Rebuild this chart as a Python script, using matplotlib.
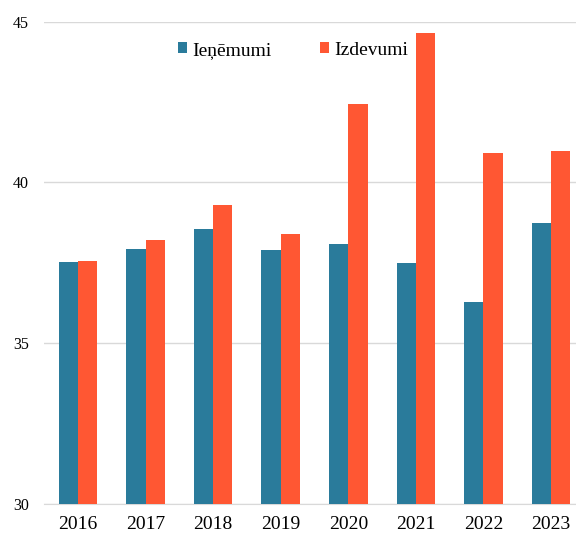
import matplotlib
matplotlib.use('Agg')

import numpy as np
import matplotlib.pyplot as plt

years = ['2016', '2017', '2018', '2019', '2020', '2021', '2022', '2023']
ienemumi = [37.52, 37.92, 38.55, 37.90, 38.07, 37.49, 36.29, 38.75]
izdevumi = [37.55, 38.21, 39.31, 38.38, 42.43, 44.66, 40.92, 40.97]

plt.rcParams['font.family'] = ['Liberation Serif', 'DejaVu Serif']

fig = plt.figure(figsize=(5.76, 5.34), dpi=100)
ax = fig.add_axes([0.0764, 0.0567, 0.9236, 0.9027])

x = np.arange(len(years))
w = 0.286
ax.bar(x - w/2, ienemumi, w, color='#2A7B9B', label='Ieņēmumi', zorder=3)
ax.bar(x + w/2, izdevumi, w, color='#FF5733', label='Izdevumi', zorder=3)

ax.set_ylim(30, 45)
ax.set_xlim(-0.503, 7.37)
ax.set_yticks([30, 35, 40, 45])
ax.set_xticks(x)
ax.set_xticklabels(years)
ax.tick_params(axis='x', length=0, labelsize=14, pad=9)
ax.tick_params(axis='y', length=0, labelsize=11.5, pad=11)
ax.grid(axis='y', color='#d9d9d9', linewidth=1, zorder=0)
for s in ['top', 'right', 'left']:
    ax.spines[s].set_visible(False)
ax.spines['bottom'].set_color('#d9d9d9')

ax.legend(loc='center', bbox_to_anchor=(0.468, 0.941), ncol=2, frameon=False,
          fontsize=14, handlelength=0.46, handleheight=0.46, handletextpad=0.25,
          columnspacing=2.5, borderpad=0, borderaxespad=0)

fig.savefig('out.png', dpi=100)
